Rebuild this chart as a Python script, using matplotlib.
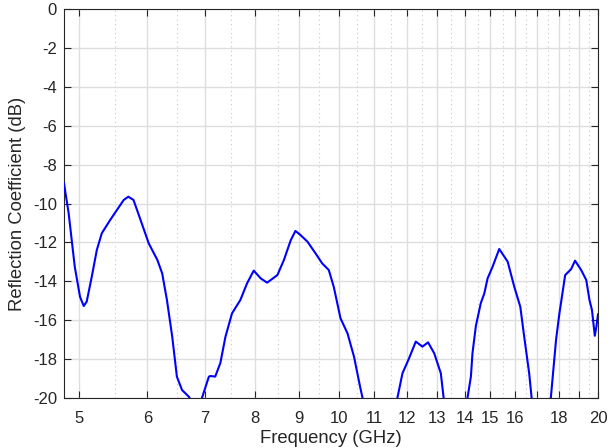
import matplotlib
matplotlib.use("Agg")
import matplotlib.pyplot as plt
from matplotlib.ticker import FixedLocator, FixedFormatter, NullFormatter

plt.rcParams['font.family'] = ['Liberation Sans', 'DejaVu Sans']

freq_ghz = [4.80, 4.86, 4.94, 5.01, 5.06, 5.10, 5.17, 5.24, 5.31, 5.43, 5.53, 5.63,
            5.70, 5.78, 5.89, 6.02, 6.16, 6.24, 6.32, 6.41, 6.49, 6.58, 6.70, 6.76,
            6.80, 6.90, 6.94, 7.07, 7.10, 7.19, 7.29, 7.39, 7.52, 7.69, 7.83, 7.97,
            8.12, 8.26, 8.49, 8.64, 8.80, 8.91, 9.03, 9.20, 9.40, 9.57, 9.74, 9.87,
            10.05, 10.24, 10.42, 10.59, 10.66, 10.75, 11.60, 11.70, 11.86, 12.07,
            12.29, 12.51, 12.70, 12.91, 13.14, 13.24, 13.35, 14.00, 14.11, 14.24,
            14.30, 14.43, 14.62, 14.76, 14.89, 15.09, 15.36, 15.71, 15.99, 16.25,
            16.42, 16.64, 16.75, 16.85, 17.50, 17.63, 17.88, 18.04, 18.32, 18.61,
            18.81, 19.12, 19.38, 19.55, 19.68, 19.83, 19.92, 20.00]
s11_db = [-8.96, -10.5, -13.25, -14.8, -15.27, -15.05, -13.76, -12.39, -11.53, -10.85,
          -10.33, -9.82, -9.65, -9.82, -10.85, -12.05, -12.9, -13.59, -14.96, -16.85,
          -18.9, -19.59, -19.93, -20.2, -21.0, -21.0, -20.0, -18.9, -18.87, -18.9,
          -18.2, -16.85, -15.65, -14.96, -14.1, -13.45, -13.85, -14.07, -13.68, -12.9,
          -11.88, -11.41, -11.62, -11.96, -12.56, -13.08, -13.42, -14.28, -15.9, -16.68,
          -17.88, -19.42, -20.0, -21.0, -21.0, -20.0, -18.73, -17.96, -17.1, -17.36,
          -17.14, -17.7, -18.73, -20.0, -21.0, -21.0, -20.0, -18.9, -17.7, -16.3,
          -15.13, -14.62, -13.85, -13.25, -12.34, -12.99, -14.28, -15.31, -16.85,
          -18.73, -20.0, -21.0, -21.0, -20.0, -17.0, -15.65, -13.68, -13.38, -12.94,
          -13.42, -13.93, -14.96, -15.48, -16.8, -16.3, -15.7]

x_ticks = [5, 6, 7, 8, 9, 10, 11, 12, 13, 14, 15, 16, 17, 18, 19, 20]
x_tick_labels = ['5', '6', '7', '8', '9', '10', '11', '12', '13', '14', '15', '16', '', '18', '', '20']
x_minor = [5.5, 6.5, 7.5, 8.5, 9.5, 10.5, 11.5, 12.5, 13.5, 14.5, 15.5, 16.5, 17.5, 18.5, 19.5]
y_ticks = [-20, -18, -16, -14, -12, -10, -8, -6, -4, -2, 0]

fig = plt.figure(figsize=(6.08, 4.48), dpi=100)
ax = fig.add_axes([64/608, 1 - 398/448, (598 - 64)/608, (398 - 9)/448])

ax.plot(freq_ghz, s11_db, color=(0, 0, 1), linewidth=1.5, zorder=3,
        solid_joinstyle='round')
ax.set_xscale('log')
ax.set_xlim(4.8, 20)
ax.set_ylim(-20, 0)

ax.xaxis.set_major_locator(FixedLocator(x_ticks))
ax.xaxis.set_major_formatter(FixedFormatter(x_tick_labels))
ax.xaxis.set_minor_locator(FixedLocator(x_minor))
ax.xaxis.set_minor_formatter(NullFormatter())
ax.set_yticks(y_ticks)
ax.set_yticklabels([str(v) for v in y_ticks])

ax.grid(True, which='major', color='#dedede', linewidth=1.0, linestyle='-', zorder=0)
ax.grid(True, which='minor', axis='x', color='#c8c8c8', linewidth=0.8, linestyle=(0, (1, 3)), zorder=0)
ax.set_axisbelow(True)

text_color = '#262626'
ax.tick_params(which='major', direction='in', length=5, width=0.8, color=text_color,
               labelsize=12, labelcolor=text_color, top=True, right=True)
ax.tick_params(axis='x', which='major', pad=9.5)
ax.tick_params(axis='y', which='major', pad=5)
ax.tick_params(which='minor', length=0, top=True, right=True)
for s in ax.spines.values():
    s.set_color(text_color)
    s.set_linewidth(0.8)

ax.set_xlabel('Frequency (GHz)', fontsize=13.3, color=text_color, labelpad=3)
ax.set_ylabel('Reflection Coefficient (dB)', fontsize=13.3, color=text_color, labelpad=5)

fig.savefig('out.png', dpi=100)
